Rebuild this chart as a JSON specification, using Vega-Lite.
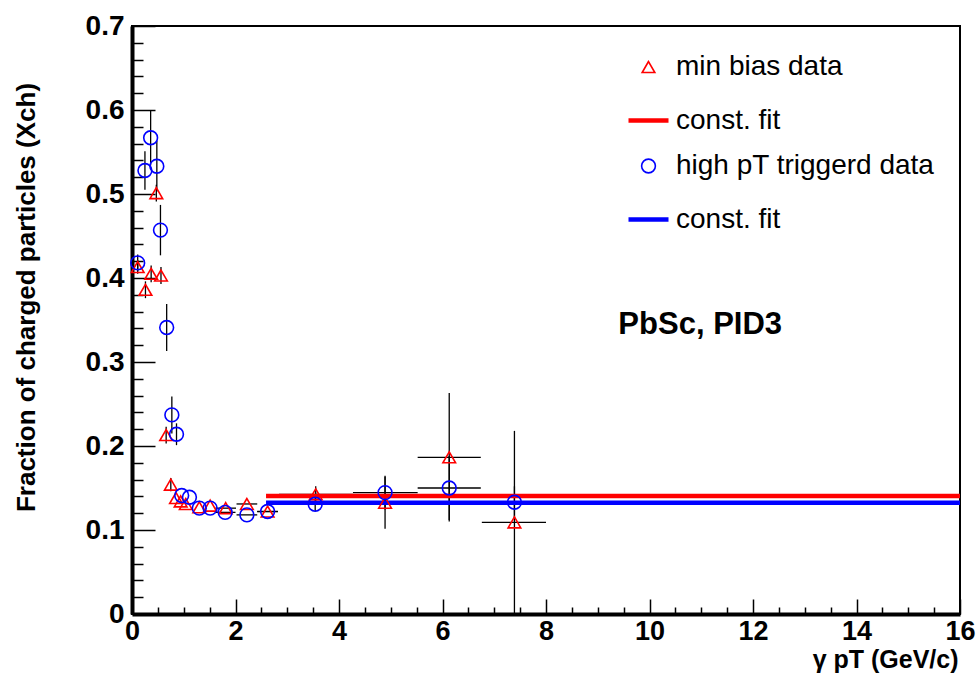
{
  "$schema": "https://vega.github.io/schema/vega-lite/v6.json",
  "width": 828,
  "height": 588,
  "autosize": {"type": "none"},
  "padding": {"left": 132, "top": 26, "right": 19, "bottom": 65},
  "background": "white",
  "config": {
    "font": "Liberation Sans",
    "view": {"stroke": "black", "strokeWidth": 2}
  },
  "datasets": {
    "points": [
      {"series": "mb", "x": 0.11, "y": 0.413, "ylo": 0.405, "yhi": 0.421},
      {"series": "mb", "x": 0.26, "y": 0.386, "ylo": 0.376, "yhi": 0.396},
      {"series": "mb", "x": 0.37, "y": 0.405, "ylo": 0.395, "yhi": 0.415},
      {"series": "mb", "x": 0.47, "y": 0.501, "ylo": 0.491, "yhi": 0.511},
      {"series": "mb", "x": 0.56, "y": 0.403, "ylo": 0.393, "yhi": 0.413},
      {"series": "mb", "x": 0.66, "y": 0.213, "ylo": 0.203, "yhi": 0.223},
      {"series": "mb", "x": 0.75, "y": 0.154, "ylo": 0.146, "yhi": 0.162},
      {"series": "mb", "x": 0.85, "y": 0.138},
      {"series": "mb", "x": 0.94, "y": 0.134},
      {"series": "mb", "x": 1.04, "y": 0.131},
      {"series": "mb", "x": 1.30, "y": 0.127},
      {"series": "mb", "x": 1.51, "y": 0.129},
      {"series": "mb", "x": 1.81, "y": 0.126, "xlo": 1.61, "xhi": 2.01},
      {"series": "mb", "x": 2.22, "y": 0.131, "xlo": 2.02, "xhi": 2.42},
      {"series": "mb", "x": 2.62, "y": 0.122, "xlo": 2.42, "xhi": 2.82},
      {"series": "mb", "x": 3.55, "y": 0.1425, "xlo": 2.84, "xhi": 4.27, "ylo": 0.133, "yhi": 0.152},
      {"series": "mb", "x": 4.89, "y": 0.1325, "xlo": 4.27, "xhi": 5.52, "ylo": 0.1015, "yhi": 0.1635},
      {"series": "mb", "x": 6.13, "y": 0.1865, "xlo": 5.52, "xhi": 6.74, "ylo": 0.11, "yhi": 0.263},
      {"series": "mb", "x": 7.39, "y": 0.109, "xlo": 6.76, "xhi": 8.0, "ylo": 0.0, "yhi": 0.218},
      {"series": "hp", "x": 0.11, "y": 0.418, "ylo": 0.408, "yhi": 0.428},
      {"series": "hp", "x": 0.25, "y": 0.528, "ylo": 0.505, "yhi": 0.551},
      {"series": "hp", "x": 0.36, "y": 0.567, "ylo": 0.534, "yhi": 0.6},
      {"series": "hp", "x": 0.48, "y": 0.533, "ylo": 0.503, "yhi": 0.563},
      {"series": "hp", "x": 0.55, "y": 0.457, "ylo": 0.427, "yhi": 0.487},
      {"series": "hp", "x": 0.67, "y": 0.341, "ylo": 0.313, "yhi": 0.369},
      {"series": "hp", "x": 0.77, "y": 0.237, "ylo": 0.215, "yhi": 0.259},
      {"series": "hp", "x": 0.86, "y": 0.214, "ylo": 0.201, "yhi": 0.227},
      {"series": "hp", "x": 0.96, "y": 0.141},
      {"series": "hp", "x": 1.11, "y": 0.139},
      {"series": "hp", "x": 1.30, "y": 0.126},
      {"series": "hp", "x": 1.51, "y": 0.126},
      {"series": "hp", "x": 1.80, "y": 0.121, "xlo": 1.60, "xhi": 2.00},
      {"series": "hp", "x": 2.22, "y": 0.118, "xlo": 2.02, "xhi": 2.42},
      {"series": "hp", "x": 2.62, "y": 0.122, "xlo": 2.42, "xhi": 2.82},
      {"series": "hp", "x": 3.54, "y": 0.1306, "xlo": 2.84, "xhi": 4.27, "ylo": 0.1226, "yhi": 0.1386},
      {"series": "hp", "x": 4.89, "y": 0.1445, "xlo": 4.27, "xhi": 5.52, "ylo": 0.1245, "yhi": 0.1645},
      {"series": "hp", "x": 6.13, "y": 0.150, "xlo": 5.52, "xhi": 6.74, "ylo": 0.112, "yhi": 0.188},
      {"series": "hp", "x": 7.39, "y": 0.133, "xlo": 6.76, "xhi": 8.0, "ylo": 0.114, "yhi": 0.152}
    ],
    "fits": [
      {"series": "mbfit", "x1": 2.59, "x2": 16, "y": 0.1405},
      {"series": "hpfit", "x1": 2.59, "x2": 16, "y": 0.1325}
    ],
    "notes": [
      {"label": "PbSc, PID3", "x": 10.98, "y": 0.344}
    ]
  },
  "layer": [
    {
      "data": {"name": "points"},
      "transform": [{"filter": "isValid(datum.ylo)"}],
      "mark": {"type": "rule", "color": "black", "strokeWidth": 1.3},
      "encoding": {
        "x": {"field": "x", "type": "quantitative", "scale": {"domain": [0, 16], "nice": false, "zero": false}, "axis": null},
        "y": {"field": "ylo", "type": "quantitative", "scale": {"domain": [0, 0.7], "nice": false, "zero": false}, "axis": null},
        "y2": {"field": "yhi"}
      }
    },
    {
      "data": {"name": "points"},
      "transform": [{"filter": "isValid(datum.xlo)"}],
      "mark": {"type": "rule", "color": "black", "strokeWidth": 1.3},
      "encoding": {
        "x": {"field": "xlo", "type": "quantitative", "scale": {"domain": [0, 16], "nice": false, "zero": false}, "axis": null},
        "x2": {"field": "xhi"},
        "y": {"field": "y", "type": "quantitative", "scale": {"domain": [0, 0.7], "nice": false, "zero": false}, "axis": null}
      }
    },
    {
      "data": {"name": "fits"},
      "mark": {"type": "rule"},
      "encoding": {
        "x": {
          "field": "x1", "type": "quantitative",
          "scale": {"domain": [0, 16], "nice": false, "zero": false},
          "axis": {
            "orient": "bottom", "values": [0.5, 1, 1.5, 2.5, 3, 3.5, 4.5, 5, 5.5, 6.5, 7, 7.5, 8.5, 9, 9.5, 10.5, 11, 11.5, 12.5, 13, 13.5, 14.5, 15, 15.5],
            "labels": false, "domain": false, "grid": false, "title": null,
            "tickSize": -7, "tickColor": "black", "tickWidth": 1.5
          }
        },
        "x2": {"field": "x2"},
        "y": {
          "field": "y", "type": "quantitative",
          "scale": {"domain": [0, 0.7], "nice": false, "zero": false},
          "axis": {
            "orient": "left", "values": [0.02, 0.04, 0.06, 0.08, 0.12, 0.14, 0.16, 0.18, 0.22, 0.24, 0.26, 0.28, 0.32, 0.34, 0.36, 0.38, 0.42, 0.44, 0.46, 0.48, 0.52, 0.54, 0.56, 0.58, 0.62, 0.64, 0.66, 0.68],
            "labels": false, "domain": false, "grid": false, "title": null,
            "tickSize": -11, "tickColor": "black", "tickWidth": 1.5
          }
        },
        "color": {
          "field": "series", "type": "nominal",
          "scale": {"domain": ["mb", "mbfit", "hp", "hpfit"], "range": ["#ff0000", "#ff0000", "#0000ff", "#0000ff"]}
        },
        "strokeWidth": {
          "field": "series", "type": "nominal",
          "scale": {"type": "ordinal", "domain": ["mb", "mbfit", "hp", "hpfit"], "range": [1.6, 4.5, 1.6, 4.5]}
        }
      }
    },
    {
      "data": {"name": "points"},
      "mark": {"type": "point", "filled": false, "opacity": 1},
      "encoding": {
        "x": {
          "field": "x", "type": "quantitative",
          "scale": {"domain": [0, 16], "nice": false, "zero": false},
          "axis": {
            "orient": "bottom", "values": [0, 2, 4, 6, 8, 10, 12, 14, 16],
            "grid": false, "tickSize": -15, "tickColor": "black", "tickWidth": 1.5,
            "domainColor": "black", "domainWidth": 4,
            "labelFont": "Liberation Sans", "labelFontSize": 27, "labelFontWeight": "bold", "labelColor": "black",
            "labelPadding": 19, "labelBaseline": "top", "labelFlush": false, "labelOverlap": false, "labelBound": false,
            "title": "γ pT (GeV/c)", "titleFont": "Liberation Sans", "titleFontSize": 25, "titleFontWeight": "bold", "titleColor": "black",
            "titleAlign": "right", "titleBaseline": "middle", "titleX": 826, "titleY": 45
          }
        },
        "y": {
          "field": "y", "type": "quantitative",
          "scale": {"domain": [0, 0.7], "nice": false, "zero": false},
          "axis": {
            "orient": "left", "values": [0, 0.1, 0.2, 0.3, 0.4, 0.5, 0.6, 0.7],
            "grid": false, "tickSize": -23, "tickColor": "black", "tickWidth": 1.5,
            "domainColor": "black", "domainWidth": 4,
            "labelFont": "Liberation Sans", "labelFontSize": 28, "labelFontWeight": "bold", "labelColor": "black",
            "labelPadding": 31, "labelFlush": false, "labelOverlap": false, "labelBound": false,
            "labelExpr": "datum.value == 0 ? '0' : format(datum.value, '.1f')",
            "title": "Fraction of charged particles (Xch)", "titleFont": "Liberation Sans", "titleFontSize": 26, "titleFontWeight": "bold", "titleColor": "black",
            "titleAngle": 270, "titleAlign": "center", "titleBaseline": "middle", "titleX": -106, "titleY": 271
          }
        },
        "color": {
          "field": "series", "type": "nominal",
          "scale": {"domain": ["mb", "mbfit", "hp", "hpfit"], "range": ["#ff0000", "#ff0000", "#0000ff", "#0000ff"]},
          "legend": {
            "title": null, "orient": "none", "legendX": 494, "legendY": 27,
            "labelExpr": "datum.value == 'mb' ? 'min bias data' : datum.value == 'hp' ? 'high pT triggerd data' : 'const. fit'",
            "labelFont": "Liberation Sans", "labelFontSize": 28, "labelColor": "black", "labelLimit": 400,
            "labelOffset": 5, "rowPadding": 17, "symbolFillColor": "transparent"
          }
        },
        "shape": {
          "field": "series", "type": "nominal",
          "scale": {"domain": ["mb", "mbfit", "hp", "hpfit"], "range": ["triangle-up", "stroke", "circle", "stroke"]}
        },
        "size": {
          "field": "series", "type": "nominal",
          "scale": {"type": "ordinal", "domain": ["mb", "mbfit", "hp", "hpfit"], "range": [160, 1600, 190, 1600]}
        },
        "strokeWidth": {
          "field": "series", "type": "nominal",
          "scale": {"type": "ordinal", "domain": ["mb", "mbfit", "hp", "hpfit"], "range": [1.6, 4.5, 1.6, 4.5]}
        }
      }
    },
    {
      "data": {"name": "notes"},
      "mark": {"type": "text", "font": "Liberation Sans", "fontSize": 31, "fontWeight": "bold", "color": "black", "align": "center", "baseline": "middle"},
      "encoding": {
        "text": {"field": "label", "type": "nominal"},
        "x": {"field": "x", "type": "quantitative", "axis": null},
        "y": {"field": "y", "type": "quantitative", "axis": null}
      }
    }
  ],
  "resolve": {"axis": {"x": "independent", "y": "independent"}}
}
